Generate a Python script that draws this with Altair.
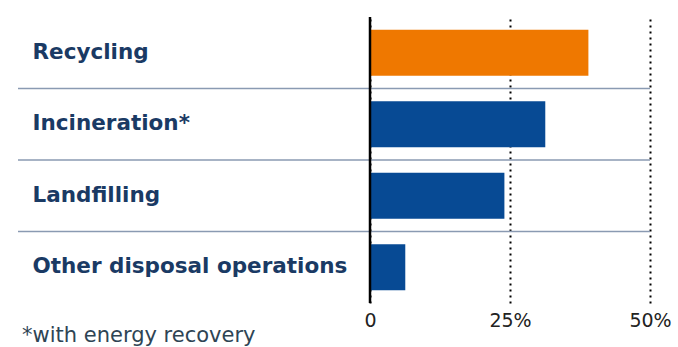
import altair as alt
import pandas as pd

categories = ["Recycling", "Incineration*", "Landfilling", "Other disposal operations"]
values = [39, 31.3, 24, 6.3]
bar_colors = ["#EF7800", "#074A94", "#074A94", "#074A94"]
tick_values = [0, 25, 50]
separators = ["Recycling", "Incineration*", "Landfilling"]
footnote = ["*with energy recovery"]

df = pd.DataFrame({"cat": categories, "val": values})
sep_df = pd.DataFrame({"cat": separators})
note_df = pd.DataFrame({"t": footnote})
zero_df = pd.DataFrame({"v": [0]})

yscale = alt.Scale(domain=categories, paddingInner=0, paddingOuter=0)
xscale = alt.Scale(domain=[0, 50], nice=False)

bars = alt.Chart(df).mark_bar(height={"band": 0.64}).encode(
    x=alt.X("val:Q", scale=xscale, axis=alt.Axis(
        values=tick_values, title=None, grid=True, gridDash=[2, 4], gridColor="#000000",
        gridWidth=2, gridOpacity=1, domain=False, ticks=False,
        labelExpr="datum.value == 0 ? '0' : datum.value + '%'",
        labelFontSize=19, labelColor="#222222", labelFont="DejaVu Sans", labelPadding=8,
        labelFlush=False)),
    y=alt.Y("cat:N", scale=yscale, sort=categories, axis=alt.Axis(
        title=None, domain=False, ticks=False, grid=False, labelAlign="left",
        labelPadding=338, labelFontSize=21.5, labelFont="DejaVu Sans", labelFontWeight="bold",
        labelColor="#1A3A64", labelLimit=400)),
    color=alt.Color("cat:N", scale=alt.Scale(domain=categories, range=bar_colors), legend=None),
)

seps = alt.Chart(sep_df).mark_rule(color="#8A9AB2", strokeWidth=1.5).encode(
    y=alt.Y("cat:N", scale=yscale, sort=categories, bandPosition=1),
    x=alt.value(-352), x2=alt.value(280),
)

zero = alt.Chart(zero_df).mark_rule(color="#000000", strokeWidth=2.5).encode(
    x=alt.X("v:Q", scale=xscale),
)

note = alt.Chart(note_df).mark_text(
    align="left", baseline="middle", fontSize=21, font="DejaVu Sans", color="#2E4454"
).encode(text="t:N", x=alt.value(-348), y=alt.value(319))

chart = alt.layer(bars, seps, zero, note).properties(
    width=280, height=286,
    autosize=alt.AutoSizeParams(type="none"),
    padding={"left": 370, "top": 17, "right": 28, "bottom": 44},
).configure_view(stroke=None)

chart.save("out.html", embed_options={"renderer": "svg", "actions": False})
